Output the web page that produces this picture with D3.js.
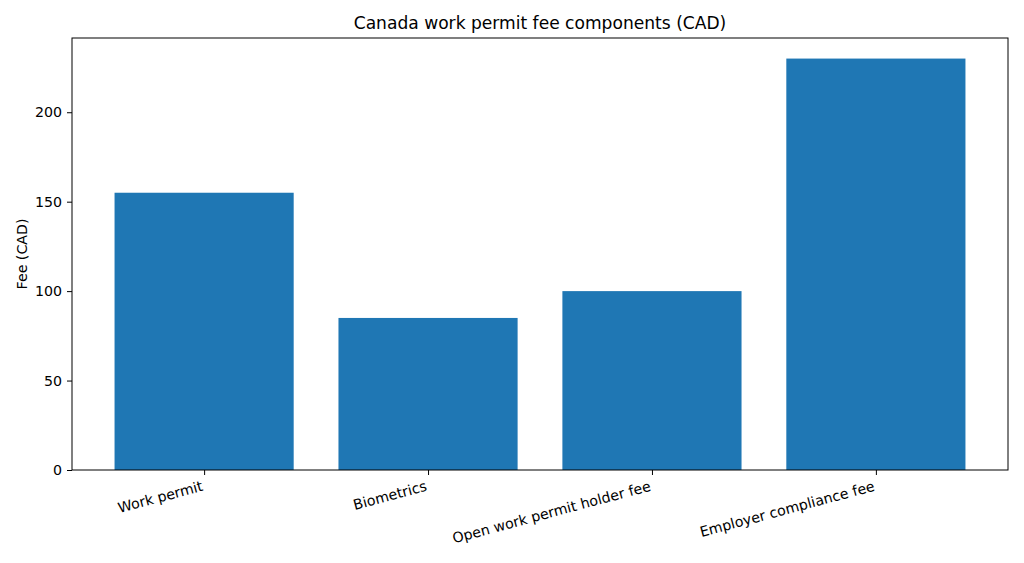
<!DOCTYPE html>
<html>
<head>
<meta charset="utf-8">
<script src="https://cdn.jsdelivr.net/npm/d3@7"></script>
<style>
  body { margin: 0; background: #fff; }
  text { font-family: "DejaVu Sans", sans-serif; fill: #000; }
</style>
</head>
<body>
<div id="chart"></div>
<script>
// fee components
var categories = ["Work permit", "Biometrics", "Open work permit holder fee", "Employer compliance fee"];
var fees = [155, 85, 100, 230];
var yTicks = [0, 50, 100, 150, 200];

var W = 1024, H = 563;
var fs = 14.2;

var svg = d3.select("#chart").append("svg")
	.attr("width", W)
	.attr("height", H);

// matplotlib style: bars at 0..n-1, width 0.8, 5% margins
var x = d3.scaleLinear().domain([-0.59, 3.59]).range([72, 1008]);
var y = d3.scaleLinear().domain([0, 241.5]).range([470, 38]);

svg.selectAll("rect.bar").data(fees)
	.enter().append("rect")
	.attr("class", "bar")
	.attr("x", function(d, i) { return x(i - 0.4); })
	.attr("width", function(d, i) { return x(i + 0.4) - x(i - 0.4); })
	.attr("y", function(d) { return y(d); })
	.attr("height", function(d) { return y(0) - y(d); })
	.attr("fill", "#1f77b4");

// frame
svg.append("rect")
	.attr("x", 72).attr("y", 38)
	.attr("width", 1008 - 72).attr("height", 470 - 38)
	.attr("fill", "none").attr("stroke", "#000").attr("stroke-width", 1);

// y axis
var yAxis = d3.axisLeft(y).tickValues(yTicks).tickSize(5).tickPadding(5);
var gy = svg.append("g").attr("transform", "translate(72,0)").call(yAxis);
gy.select(".domain").remove();
gy.selectAll("text").style("font-size", fs + "px").style("font-family", "DejaVu Sans");

// x axis ticks
var xAxis = d3.axisBottom(x).tickValues([0, 1, 2, 3]).tickSize(5).tickFormat("");
var gx = svg.append("g").attr("transform", "translate(0,470)").call(xAxis);
gx.select(".domain").remove();

// rotated labels, right aligned at tick (like rotation=15, ha='right')
var s15 = Math.sin(15 * Math.PI / 180), c15 = Math.cos(15 * Math.PI / 180);
svg.selectAll("text.xlab").data(categories)
	.enter().append("text")
	.attr("class", "xlab")
	.attr("transform", function(d, i) {
		var tx = x(i) + 0.5 - 0.24 * fs * s15;
		var ty = 480 + 0.76 * fs * c15;
		return "translate(" + tx + "," + ty + ") rotate(-15)";
	})
	.attr("text-anchor", "end")
	.style("font-size", fs + "px")
	.text(function(d) { return d; });

// y label
svg.append("text")
	.attr("transform", "translate(27,254) rotate(-90)")
	.attr("text-anchor", "middle")
	.style("font-size", fs + "px")
	.text("Fee (CAD)");

// title
svg.append("text")
	.attr("x", 540).attr("y", 29)
	.attr("text-anchor", "middle")
	.style("font-size", "17.1px")
	.text("Canada work permit fee components (CAD)");
</script>
</body>
</html>
